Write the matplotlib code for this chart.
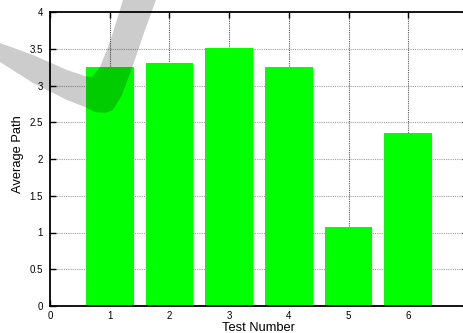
import matplotlib
matplotlib.use("Agg")
import matplotlib.pyplot as plt
from matplotlib.patches import Polygon

tests = [1, 2, 3, 4, 5, 6]
avg_path = [3.25, 3.30, 3.51, 3.25, 1.07, 2.35]
y_ticks = [0, 0.5, 1, 1.5, 2, 2.5, 3, 3.5, 4]
y_tick_labels = ["0", "0.5", "1", "1.5", "2", "2.5", "3", "3.5", "4"]
x_ticks = [0, 1, 2, 3, 4, 5, 6]

plt.rcParams['font.family'] = ['Liberation Sans', 'DejaVu Sans']

W, H = 464, 333
fig = plt.figure(figsize=(W / 100, H / 100), dpi=100)
L, R, T, B = 50, 468, 12, 306
ax = fig.add_axes([L / W, (H - B) / H, (R - L) / W, (B - T) / H])

ax.bar(tests, avg_path, width=0.8, color='#00ff00', zorder=2)
ax.set_xlim(0, 7)
ax.set_ylim(0, 4)
ax.set_xticks(x_ticks)
ax.set_xticklabels([str(t) for t in x_ticks])
ax.set_yticks(y_ticks)
ax.set_yticklabels(y_tick_labels)

for y in y_ticks[1:-1]:
    ax.axhline(y, color='#a0a0a0', linestyle=(0, (1, 1)), linewidth=0.8, zorder=1)
for x in x_ticks[1:]:
    ax.axvline(x, color='#555555', linestyle=(0, (1, 1)), linewidth=0.8, zorder=1)

ax.tick_params(direction='in', length=4, width=1, top=True, right=True,
               labelsize=7, colors='black')
ax.tick_params(axis='x', pad=3.5)
ax.tick_params(axis='y', pad=5)
for s in ax.spines.values():
    s.set_linewidth(1.3)
    s.set_zorder(3)

fig.text(259 / W, 1 - 331 / H, 'Test Number', fontsize=9.3,
         ha='center', va='baseline')
fig.text(18.5 / W, 1 - 154 / H, 'Average Path', fontsize=9.3,
         rotation=90, ha='center', va='center')

# translucent swoosh overlay (pixel coordinates from top-left)
pts = [(0, 43), (33, 55), (67, 70), (85, 76), (92, 77), (100, 67), (110, 42),
       (123, 0), (156, 0), (145, 30), (133, 65), (122, 95), (113, 110),
       (105, 113), (95, 112), (85, 107), (67, 100), (33, 83), (0, 62)]
poly = Polygon([(x / W, 1 - y / H) for x, y in pts], closed=True,
               transform=fig.transFigure, facecolor='black', alpha=0.2,
               edgecolor='none', zorder=10)
fig.patches.append(poly)

fig.savefig('out.png', dpi=100)
